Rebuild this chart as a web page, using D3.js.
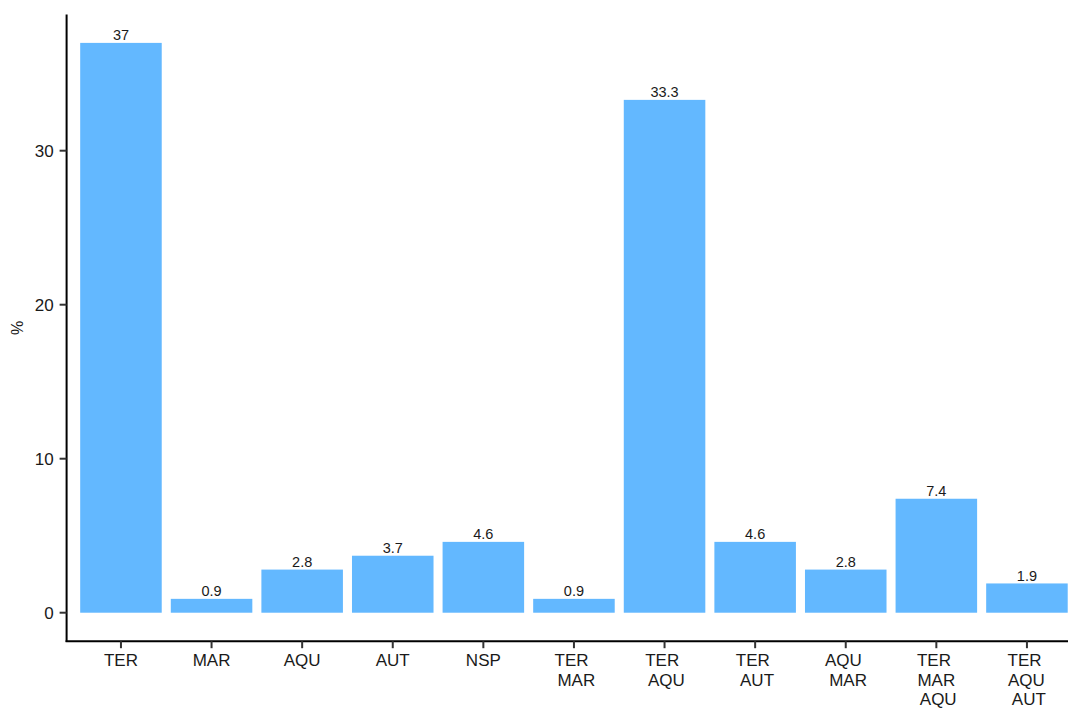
<!DOCTYPE html>
<html>
<head>
<meta charset="utf-8">
<script src="https://cdn.jsdelivr.net/npm/d3@7"></script>
<style>
  html, body { margin: 0; padding: 0; background: #fff; }
  svg { display: block; font-family: "Liberation Sans", Arial, Helvetica, sans-serif; }
  .xlab { white-space: pre; }
</style>
</head>
<body>
<svg id="chart" width="1068" height="709"></svg>
<script>
// Habitat categories (multi-line labels, one habitat per line)
const categories = ["TER", "MAR", "AQU", "AUT", "NSP", "TER \n MAR", "TER \n AQU", "TER \n AUT", "AQU \n MAR", "TER \n MAR \n AQU", "TER \n AQU \n AUT"];
const percents = [37, 0.9, 2.8, 3.7, 4.6, 0.9, 33.3, 4.6, 2.8, 7.4, 1.9];
const valueLabels = ["37", "0.9", "2.8", "3.7", "4.6", "0.9", "33.3", "4.6", "2.8", "7.4", "1.9"];
const yTicks = [0, 10, 20, 30];

const svg = d3.select("#chart");
const panel = { left: 66.6, right: 1081.3, top: 14.4, bottom: 641.2 };
const maxV = d3.max(percents);
const pad = maxV * 0.05;

const x = d3.scaleBand()
  .domain(d3.range(categories.length))
  .range([panel.left, panel.right])
  .paddingInner(0.1)
  .paddingOuter(0.15);

const y = d3.scaleLinear()
  .domain([-pad, maxV + pad])
  .range([panel.bottom, panel.top]);

// Bars
svg.append("g").selectAll("rect")
  .data(percents)
  .join("rect")
  .attr("x", (d, i) => x(i))
  .attr("width", x.bandwidth())
  .attr("y", d => y(d))
  .attr("height", d => y(0) - y(d))
  .attr("fill", "#63B8FF");

// Value labels above bars
svg.append("g").selectAll("text")
  .data(percents)
  .join("text")
  .attr("x", (d, i) => x(i) + x.bandwidth() / 2)
  .attr("y", d => y(d) - 2.5)
  .attr("text-anchor", "middle")
  .attr("font-size", 14.5)
  .attr("fill", "#1a1a1a")
  .text((d, i) => valueLabels[i]);

// Y axis
const yAxis = svg.append("g");
yAxis.append("line")
  .attr("x1", panel.left).attr("x2", panel.left)
  .attr("y1", panel.top).attr("y2", panel.bottom + 0.8)
  .attr("stroke", "#000").attr("stroke-width", 2);
yAxis.selectAll("line.tick")
  .data(yTicks)
  .join("line")
  .attr("class", "tick")
  .attr("x1", panel.left - 7).attr("x2", panel.left)
  .attr("y1", d => y(d)).attr("y2", d => y(d))
  .attr("stroke", "#333").attr("stroke-width", 2);
yAxis.selectAll("text")
  .data(yTicks)
  .join("text")
  .attr("x", panel.left - 13)
  .attr("y", d => y(d))
  .attr("dy", "0.36em")
  .attr("text-anchor", "end")
  .attr("font-size", 17)
  .attr("fill", "#1a1a1a")
  .text(d => d);

// X axis
const xAxis = svg.append("g");
xAxis.append("line")
  .attr("x1", panel.left - 1).attr("x2", 1068)
  .attr("y1", panel.bottom).attr("y2", panel.bottom)
  .attr("stroke", "#000").attr("stroke-width", 2);
xAxis.selectAll("line.tick")
  .data(categories)
  .join("line")
  .attr("class", "tick")
  .attr("x1", (d, i) => x(i) + x.bandwidth() / 2)
  .attr("x2", (d, i) => x(i) + x.bandwidth() / 2)
  .attr("y1", panel.bottom).attr("y2", panel.bottom + 7)
  .attr("stroke", "#333").attr("stroke-width", 2);
xAxis.selectAll("text")
  .data(categories)
  .join("text")
  .attr("class", "xlab")
  .attr("text-anchor", "middle")
  .attr("font-size", 17)
  .attr("fill", "#1a1a1a")
  .each(function (d, i) {
    const t = d3.select(this);
    const cx = x(i) + x.bandwidth() / 2;
    d.split("\n").forEach((line, k) => {
      t.append("tspan")
        .attr("x", cx)
        .attr("y", panel.bottom + 24.8 + k * 19.7)
        .text(line);
    });
  });

// Y axis title
svg.append("text")
  .attr("transform", `translate(23, ${(panel.top + panel.bottom) / 2}) rotate(-90)`)
  .attr("text-anchor", "middle")
  .attr("font-size", 16)
  .attr("fill", "#1a1a1a")
  .text("%");
</script>
</body>
</html>
